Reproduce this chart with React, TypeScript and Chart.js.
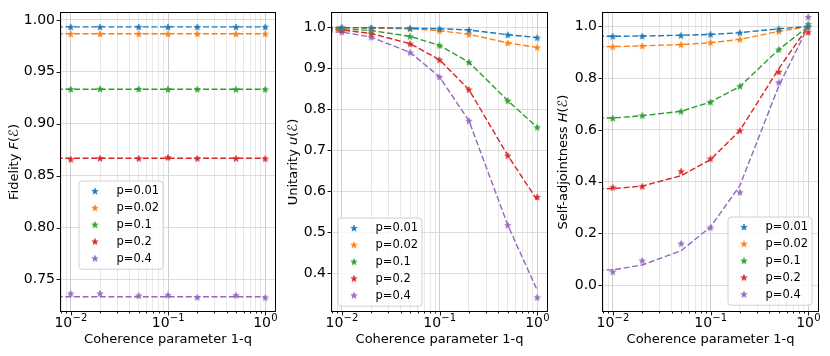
import React, { useEffect, useRef } from "react";
import { Chart, registerables } from "chart.js";
Chart.register(...registerables);

const FONT = "DejaVu Sans";

// ---------- data ----------
const coherence = [0.01, 0.02, 0.05, 0.1, 0.2, 0.5, 1];
const curveCoherence = [0.0001, 0.01, 0.02, 0.05, 0.1, 0.2, 0.5, 1];
const seriesLabels = ["p=0.01", "p=0.02", "p=0.1", "p=0.2", "p=0.4"];
const seriesColors = ["#1f77b4", "#ff7f0e", "#2ca02c", "#d62728", "#9467bd"];

const fidelityTicks = [0.75, 0.8, 0.85, 0.9, 0.95, 1.0];
const unitarityTicks = [0.4, 0.5, 0.6, 0.7, 0.8, 0.9, 1.0];
const adjointTicks = [0.0, 0.2, 0.4, 0.6, 0.8, 1.0];

// Fidelity F(E) — measured points
const fidelity001 = [0.9933, 0.9933, 0.9933, 0.9933, 0.9933, 0.9933, 0.9933];
const fidelity002 = [0.9867, 0.9867, 0.9867, 0.9867, 0.9867, 0.9867, 0.9867];
const fidelity01 = [0.9333, 0.9337, 0.9336, 0.9333, 0.9333, 0.9332, 0.9332];
const fidelity02 = [0.8658, 0.8668, 0.8667, 0.8677, 0.8667, 0.8667, 0.8665];
const fidelity04 = [0.7364, 0.7366, 0.7345, 0.735, 0.7329, 0.7348, 0.7326];
// Fidelity — model curves
const fidelityCurve001 = [0.9933, 0.9933, 0.9933, 0.9933, 0.9933, 0.9933, 0.9933, 0.9933];
const fidelityCurve002 = [0.9867, 0.9867, 0.9867, 0.9867, 0.9867, 0.9867, 0.9867, 0.9867];
const fidelityCurve01 = [0.9333, 0.9333, 0.9333, 0.9333, 0.9333, 0.9333, 0.9333, 0.9333];
const fidelityCurve02 = [0.8667, 0.8667, 0.8667, 0.8667, 0.8667, 0.8667, 0.8667, 0.8667];
const fidelityCurve04 = [0.7333, 0.7333, 0.7333, 0.7333, 0.7333, 0.7333, 0.7333, 0.7333];

// Unitarity u(E) — measured points
const unitarity001 = [0.9995, 0.999, 0.998, 0.9967, 0.9935, 0.982, 0.975];
const unitarity002 = [0.9995, 0.998, 0.9965, 0.992, 0.983, 0.962, 0.951];
const unitarity01 = [0.997, 0.992, 0.978, 0.956, 0.915, 0.821, 0.756];
const unitarity02 = [0.9935, 0.985, 0.96, 0.921, 0.848, 0.687, 0.586];
const unitarity04 = [0.9887, 0.976, 0.939, 0.879, 0.772, 0.517, 0.341];
// Unitarity — model curves
const unitarityCurve001 = [1.0, 0.9995, 0.999, 0.998, 0.9967, 0.9935, 0.982, 0.975];
const unitarityCurve002 = [1.0, 0.9995, 0.998, 0.9965, 0.992, 0.983, 0.962, 0.951];
const unitarityCurve01 = [0.998, 0.997, 0.992, 0.978, 0.956, 0.915, 0.821, 0.756];
const unitarityCurve02 = [0.995, 0.9935, 0.985, 0.96, 0.921, 0.848, 0.687, 0.578];
const unitarityCurve04 = [0.99, 0.9887, 0.976, 0.939, 0.879, 0.772, 0.517, 0.358];

// Self-adjointness H(E) — measured points
const adjoint001 = [0.962, 0.963, 0.9656, 0.9694, 0.976, 0.991, 1.0];
const adjoint002 = [0.922, 0.925, 0.93, 0.938, 0.95, 0.981, 0.999];
const adjoint01 = [0.6455, 0.656, 0.672, 0.708, 0.769, 0.911, 1.009];
const adjoint02 = [0.378, 0.382, 0.44, 0.489, 0.598, 0.825, 0.978];
const adjoint04 = [0.052, 0.095, 0.161, 0.223, 0.359, 0.784, 1.037];
// Self-adjointness — model curves
const adjointCurve001 = [0.961, 0.962, 0.963, 0.966, 0.969, 0.976, 0.991, 1.0];
const adjointCurve002 = [0.921, 0.922, 0.925, 0.93, 0.937, 0.95, 0.981, 1.0];
const adjointCurve01 = [0.645, 0.646, 0.655, 0.672, 0.708, 0.768, 0.911, 1.0];
const adjointCurve02 = [0.371, 0.373, 0.383, 0.423, 0.485, 0.598, 0.837, 1.0];
const adjointCurve04 = [0.057, 0.059, 0.078, 0.133, 0.225, 0.385, 0.77, 1.0];

// ---------- layout / style config ----------
const X_MIN = Math.pow(10, -2.1);
const X_MAX = Math.pow(10, 0.1);

type Seg = { text: string; italic?: boolean };

const panels = [
  {
    canvasLeft: 0, canvasWidth: 280, areaLeft: 61, areaRight: 276,
    yMin: 0.7196, yMax: 1.0067, yTicks: fidelityTicks, decimals: 2,
    title: [{ text: "Fidelity " }, { text: "F", italic: true }, { text: "(" }, { text: "ℰ", italic: true }, { text: ")" }] as Seg[],
    titleOffset: 46,
    points: [fidelity001, fidelity002, fidelity01, fidelity02, fidelity04],
    curves: [fidelityCurve001, fidelityCurve002, fidelityCurve01, fidelityCurve02, fidelityCurve04],
    legend: { fromLeft: 18, fromRight: null as number | null, top: 181 },
  },
  {
    canvasLeft: 280, canvasWidth: 272, areaLeft: 332, areaRight: 547,
    yMin: 0.3075, yMax: 1.035, yTicks: unitarityTicks, decimals: 1,
    title: [{ text: "Unitarity " }, { text: "u", italic: true }, { text: "(" }, { text: "ℰ", italic: true }, { text: ")" }] as Seg[],
    titleOffset: 38,
    points: [unitarity001, unitarity002, unitarity01, unitarity02, unitarity04],
    curves: [unitarityCurve001, unitarityCurve002, unitarityCurve01, unitarityCurve02, unitarityCurve04],
    legend: { fromLeft: 6, fromRight: null as number | null, top: 218 },
  },
  {
    canvasLeft: 552, canvasWidth: 278, areaLeft: 603, areaRight: 818,
    yMin: -0.1, yMax: 1.052, yTicks: adjointTicks, decimals: 1,
    title: [{ text: "Self-adjointness " }, { text: "H", italic: true }, { text: "(" }, { text: "ℰ", italic: true }, { text: ")" }] as Seg[],
    titleOffset: 39,
    points: [adjoint001, adjoint002, adjoint01, adjoint02, adjoint04],
    curves: [adjointCurve001, adjointCurve002, adjointCurve01, adjointCurve02, adjointCurve04],
    legend: { fromLeft: null as number | null, fromRight: 6, top: 217 },
  },
];

const AREA_TOP = 9;
const AREA_BOTTOM = 311;
const HEIGHT = 356;

function makeStar(color: string, r: number): HTMLCanvasElement {
  const s = Math.ceil(r * 2 + 3);
  const c = document.createElement("canvas");
  c.width = s;
  c.height = s;
  const g = c.getContext("2d")!;
  g.beginPath();
  for (let i = 0; i < 10; i++) {
    const rad = i % 2 === 0 ? r : r * 0.382;
    const ang = -Math.PI / 2 + (i * Math.PI) / 5;
    const x = s / 2 + rad * Math.cos(ang);
    const y = s / 2 + 0.4 + rad * Math.sin(ang);
    if (i === 0) g.moveTo(x, y);
    else g.lineTo(x, y);
  }
  g.closePath();
  g.fillStyle = color;
  g.fill();
  g.strokeStyle = color;
  g.lineWidth = 0.6;
  g.stroke();
  return c;
}

function isDecade(v: number) {
  const l = Math.log10(v);
  return Math.abs(l - Math.round(l)) < 1e-6;
}

function drawRich(ctx: CanvasRenderingContext2D, segs: Seg[], cx: number, cy: number, size: number, rotate: boolean) {
  ctx.save();
  ctx.translate(cx, cy);
  if (rotate) ctx.rotate(-Math.PI / 2);
  const fonts = segs.map((s) => `${s.italic ? "italic " : ""}${size}px "${FONT}"`);
  let total = 0;
  const widths = segs.map((s, i) => {
    ctx.font = fonts[i];
    const w = ctx.measureText(s.text).width;
    total += w;
    return w;
  });
  let x = -total / 2;
  ctx.textBaseline = "middle";
  ctx.textAlign = "left";
  ctx.fillStyle = "#000";
  segs.forEach((s, i) => {
    ctx.font = fonts[i];
    ctx.fillText(s.text, x, 0);
    x += widths[i];
  });
  ctx.restore();
}

const decorPlugin = {
  id: "decor",
  afterDraw(chart: any, _args: any, opts: any) {
    const { ctx, chartArea: a, scales } = chart;
    const xs = scales.x;
    const ys = scales.y;
    ctx.save();
    // tick marks
    ctx.strokeStyle = "#000";
    ctx.lineWidth = 0.9;
    xs.ticks.forEach((t: any) => {
      const px = Math.round(xs.getPixelForValue(t.value)) + 0.5;
      const len = isDecade(t.value) ? 4.5 : 2.5;
      ctx.beginPath();
      ctx.moveTo(px, a.bottom);
      ctx.lineTo(px, a.bottom + len);
      ctx.stroke();
    });
    ys.ticks.forEach((t: any) => {
      const py = Math.round(ys.getPixelForValue(t.value)) + 0.5;
      ctx.beginPath();
      ctx.moveTo(a.left - 4.5, py);
      ctx.lineTo(a.left, py);
      ctx.stroke();
    });
    // frame
    ctx.lineWidth = 1;
    ctx.strokeRect(Math.round(a.left) - 0.5, Math.round(a.top) - 0.5, Math.round(a.right - a.left) + 1, Math.round(a.bottom - a.top) + 1);

    // x tick labels (10^k)
    ctx.fillStyle = "#000";
    ctx.textAlign = "left";
    ctx.textBaseline = "alphabetic";
    xs.ticks.forEach((t: any) => {
      if (!isDecade(t.value)) return;
      const k = Math.round(Math.log10(t.value));
      const exp = k < 0 ? "\u2212" + Math.abs(k) : String(k);
      const px = xs.getPixelForValue(t.value);
      ctx.font = `14px "${FONT}"`;
      const w1 = ctx.measureText("10").width;
      ctx.font = `10px "${FONT}"`;
      const w2 = ctx.measureText(exp).width;
      const x0 = px - (w1 + w2) / 2;
      const base = a.bottom + 15.8;
      ctx.font = `14px "${FONT}"`;
      ctx.fillText("10", x0, base);
      ctx.font = `10px "${FONT}"`;
      ctx.fillText(exp, x0 + w1 + 0.3, base - 5.5);
    });

    // x title
    ctx.font = `13px "${FONT}"`;
    ctx.textAlign = "center";
    ctx.fillText("Coherence parameter 1-q", (a.left + a.right) / 2, a.bottom + 32);

    // y title
    drawRich(ctx, opts.title, a.left - opts.titleOffset, (a.top + a.bottom) / 2, 13, true);

    // legend
    const lg = opts.legend;
    const items = chart.data.datasets.filter((d: any) => d.label);
    const boxW = 84;
    const rowH = 16.8;
    const boxH = 10 + rowH * (items.length - 1) + 11;
    const bx = lg.fromLeft !== null ? a.left + lg.fromLeft : a.right - lg.fromRight - boxW;
    const by = lg.top;
    const r = 3;
    ctx.beginPath();
    ctx.moveTo(bx + r, by);
    ctx.lineTo(bx + boxW - r, by);
    ctx.arcTo(bx + boxW, by, bx + boxW, by + r, r);
    ctx.lineTo(bx + boxW, by + boxH - r);
    ctx.arcTo(bx + boxW, by + boxH, bx + boxW - r, by + boxH, r);
    ctx.lineTo(bx + r, by + boxH);
    ctx.arcTo(bx, by + boxH, bx, by + boxH - r, r);
    ctx.lineTo(bx, by + r);
    ctx.arcTo(bx, by, bx + r, by, r);
    ctx.closePath();
    ctx.fillStyle = "rgba(255,255,255,0.8)";
    ctx.fill();
    ctx.strokeStyle = "#d0d0d0";
    ctx.lineWidth = 1;
    ctx.stroke();
    ctx.font = `11.5px "${FONT}"`;
    ctx.textAlign = "left";
    ctx.textBaseline = "middle";
    ctx.fillStyle = "#000";
    items.forEach((d: any, i: number) => {
      const cy = by + 10 + i * rowH;
      const img = d.pointStyle as HTMLCanvasElement;
      ctx.drawImage(img, bx + 16 - img.width / 2, cy - img.height / 2);
      ctx.fillText(d.label, bx + 37.5, cy + 0.5);
    });
    ctx.restore();
  },
};

function Panel({ cfg }: { cfg: (typeof panels)[number] }) {
  const ref = useRef<HTMLCanvasElement>(null);
  useEffect(() => {
    const canvas = ref.current!;
    const datasets: any[] = [];
    seriesLabels.forEach((label, i) => {
      datasets.push({
        label,
        data: coherence.map((x, j) => ({ x, y: cfg.points[i][j] })),
        showLine: false,
        pointStyle: makeStar(seriesColors[i], 3.4),
        pointRadius: 4,
        borderColor: seriesColors[i],
        backgroundColor: seriesColors[i],
      });
      datasets.push({
        label: "",
        data: curveCoherence.map((x, j) => ({ x, y: cfg.curves[i][j] })),
        showLine: true,
        borderColor: seriesColors[i],
        borderWidth: 1.4,
        borderDash: [6, 2.6],
        pointRadius: 0,
        tension: 0,
        fill: false,
      });
    });
    const chart = new Chart(canvas, {
      type: "line",
      data: { datasets },
      plugins: [decorPlugin],
      options: {
        responsive: false,
        animation: false,
        devicePixelRatio: 1,
        layout: {
          padding: { top: AREA_TOP, bottom: 0, left: 0, right: cfg.canvasLeft + cfg.canvasWidth - cfg.areaRight },
        },
        plugins: {
          legend: { display: false },
          tooltip: { enabled: false },
          decor: { title: cfg.title, titleOffset: cfg.titleOffset, legend: cfg.legend },
        } as any,
        scales: {
          x: {
            type: "logarithmic",
            min: X_MIN,
            max: X_MAX,
            afterBuildTicks: (s: any) => {
              const t: any[] = [];
              for (let k = -3; k <= 0; k++) {
                for (let m = 1; m <= 9; m++) {
                  const v = m * Math.pow(10, k);
                  if (v >= X_MIN && v <= X_MAX) t.push({ value: v });
                }
              }
              s.ticks = t;
            },
            afterFit: (s: any) => {
              s.height = HEIGHT - AREA_BOTTOM;
            },
            ticks: { callback: () => "", autoSkip: false, maxRotation: 0, font: { size: 1 } },
            grid: {
              drawTicks: false,
              lineWidth: 0.8,
              color: (c: any) => (c.tick && isDecade(c.tick.value) ? "#c2c2c2" : "#e2e2e2"),
            },
            border: { display: false },
          },
          y: {
            type: "linear",
            min: cfg.yMin,
            max: cfg.yMax,
            afterBuildTicks: (s: any) => {
              s.ticks = cfg.yTicks.map((v) => ({ value: v }));
            },
            afterFit: (s: any) => {
              s.width = cfg.areaLeft - cfg.canvasLeft;
            },
            ticks: {
              callback: (v: any) => Number(v).toFixed(cfg.decimals),
              font: { family: FONT, size: 14, lineHeight: 1 },
              color: "#000",
              padding: 6,
            },
            grid: { drawTicks: false, lineWidth: 0.8, color: "#d4d4d4" },
            border: { display: false },
          },
        },
      } as any,
    });
    return () => chart.destroy();
  }, [cfg]);
  return (
    <canvas
      ref={ref}
      width={cfg.canvasWidth}
      height={HEIGHT}
      style={{ position: "absolute", left: cfg.canvasLeft, top: 0, width: cfg.canvasWidth, height: HEIGHT }}
    />
  );
}

export default function App() {
  return (
    <div style={{ position: "absolute", left: 0, top: 0, width: 830, height: HEIGHT, background: "#fff", overflow: "hidden" }}>
      {panels.map((p, i) => (
        <Panel key={i} cfg={p} />
      ))}
    </div>
  );
}
